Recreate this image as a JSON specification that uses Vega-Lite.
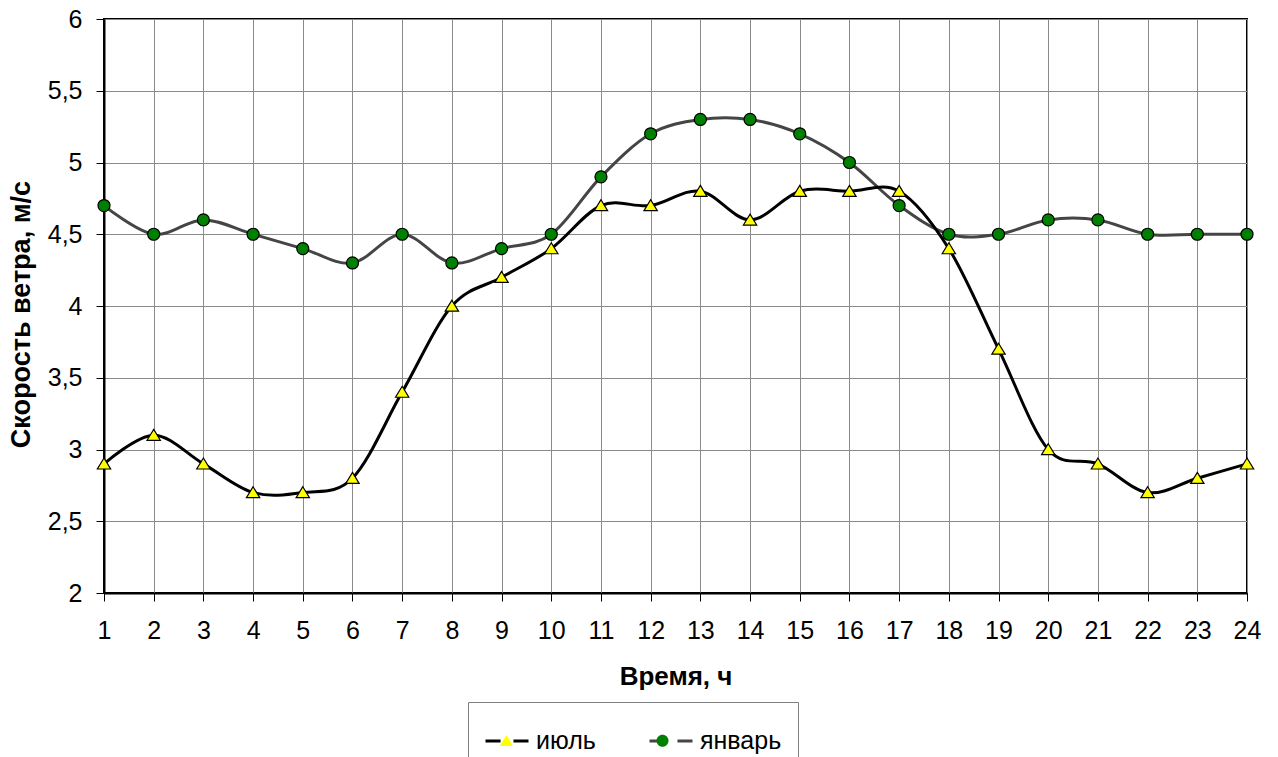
{
  "$schema": "https://vega.github.io/schema/vega-lite/v6.json",
  "autosize": "none",
  "width": 1143,
  "height": 574,
  "padding": {"left": 104, "top": 19, "right": 31, "bottom": 164},
  "background": "#ffffff",
  "config": {
    "font": "Liberation Sans",
    "view": {"stroke": "#000000", "strokeWidth": 2},
    "axis": {
      "labelFont": "Liberation Sans",
      "titleFont": "Liberation Sans",
      "labelColor": "#000000",
      "titleColor": "#000000",
      "gridColor": "#8a8a8a",
      "gridWidth": 1,
      "gridOpacity": 1,
      "tickColor": "#000000",
      "tickWidth": 1,
      "domainColor": "#000000",
      "domainWidth": 2
    }
  },
  "data": {
    "values": [
      {"hour": 1, "series": "январь", "speed": 4.7},
      {"hour": 2, "series": "январь", "speed": 4.5},
      {"hour": 3, "series": "январь", "speed": 4.6},
      {"hour": 4, "series": "январь", "speed": 4.5},
      {"hour": 5, "series": "январь", "speed": 4.4},
      {"hour": 6, "series": "январь", "speed": 4.3},
      {"hour": 7, "series": "январь", "speed": 4.5},
      {"hour": 8, "series": "январь", "speed": 4.3},
      {"hour": 9, "series": "январь", "speed": 4.4},
      {"hour": 10, "series": "январь", "speed": 4.5},
      {"hour": 11, "series": "январь", "speed": 4.9},
      {"hour": 12, "series": "январь", "speed": 5.2},
      {"hour": 13, "series": "январь", "speed": 5.3},
      {"hour": 14, "series": "январь", "speed": 5.3},
      {"hour": 15, "series": "январь", "speed": 5.2},
      {"hour": 16, "series": "январь", "speed": 5.0},
      {"hour": 17, "series": "январь", "speed": 4.7},
      {"hour": 18, "series": "январь", "speed": 4.5},
      {"hour": 19, "series": "январь", "speed": 4.5},
      {"hour": 20, "series": "январь", "speed": 4.6},
      {"hour": 21, "series": "январь", "speed": 4.6},
      {"hour": 22, "series": "январь", "speed": 4.5},
      {"hour": 23, "series": "январь", "speed": 4.5},
      {"hour": 24, "series": "январь", "speed": 4.5},
      {"hour": 1, "series": "июль", "speed": 2.9},
      {"hour": 2, "series": "июль", "speed": 3.1},
      {"hour": 3, "series": "июль", "speed": 2.9},
      {"hour": 4, "series": "июль", "speed": 2.7},
      {"hour": 5, "series": "июль", "speed": 2.7},
      {"hour": 6, "series": "июль", "speed": 2.8},
      {"hour": 7, "series": "июль", "speed": 3.4},
      {"hour": 8, "series": "июль", "speed": 4.0},
      {"hour": 9, "series": "июль", "speed": 4.2},
      {"hour": 10, "series": "июль", "speed": 4.4},
      {"hour": 11, "series": "июль", "speed": 4.7},
      {"hour": 12, "series": "июль", "speed": 4.7},
      {"hour": 13, "series": "июль", "speed": 4.8},
      {"hour": 14, "series": "июль", "speed": 4.6},
      {"hour": 15, "series": "июль", "speed": 4.8},
      {"hour": 16, "series": "июль", "speed": 4.8},
      {"hour": 17, "series": "июль", "speed": 4.8},
      {"hour": 18, "series": "июль", "speed": 4.4},
      {"hour": 19, "series": "июль", "speed": 3.7},
      {"hour": 20, "series": "июль", "speed": 3.0},
      {"hour": 21, "series": "июль", "speed": 2.9},
      {"hour": 22, "series": "июль", "speed": 2.7},
      {"hour": 23, "series": "июль", "speed": 2.8},
      {"hour": 24, "series": "июль", "speed": 2.9}
    ]
  },
  "encoding": {
    "x": {
      "field": "hour",
      "type": "quantitative",
      "scale": {"domain": [1, 24], "nice": false, "zero": false},
      "axis": {
        "title": "Время, ч",
        "values": [1,2,3,4,5,6,7,8,9,10,11,12,13,14,15,16,17,18,19,20,21,22,23,24],
        "format": "d",
        "labelFontSize": 25,
        "labelPadding": 17,
        "labelFlush": false,
        "labelOverlap": false,
        "tickSize": 8,
        "titleFontSize": 26,
        "titleFontWeight": "bold",
        "titlePadding": 20
      }
    },
    "y": {
      "field": "speed",
      "type": "quantitative",
      "scale": {"domain": [2, 6], "nice": false, "zero": false},
      "axis": {
        "title": "Скорость ветра, м/с",
        "values": [2, 2.5, 3, 3.5, 4, 4.5, 5, 5.5, 6],
        "labelExpr": "replace(toString(datum.value), '.', ',')",
        "labelFontSize": 25,
        "labelPadding": 14,
        "labelFlush": false,
        "labelOverlap": false,
        "tickSize": 8,
        "titleFontSize": 27,
        "titleFontWeight": "bold",
        "titlePadding": 12,
        "titleY": 295
      }
    }
  },
  "layer": [
    {
      "mark": {"type": "line", "interpolate": "cardinal", "tension": 0, "strokeWidth": 3},
      "encoding": {
        "stroke": {
          "field": "series",
          "type": "nominal",
          "scale": {"domain": ["июль", "январь"], "range": ["#000000", "#454545"]},
          "legend": {
            "title": null,
            "orient": "none",
            "legendX": 364,
            "legendY": 683,
            "direction": "horizontal",
            "padding": 16,
            "strokeColor": "#808080",
            "symbolType": "M-1,0H-0.3M0.3,0H1",
            "symbolSize": 1849,
            "symbolStrokeWidth": 3,
            "labelFont": "Liberation Sans",
            "labelFontSize": 25,
            "labelColor": "#000000",
            "labelOffset": 6,
            "columnPadding": 47
          }
        }
      }
    },
    {
      "mark": {"type": "point", "filled": true, "size": 1849, "stroke": "#000000", "strokeWidth": 1.2, "opacity": 1},
      "encoding": {
        "shape": {
          "field": "series",
          "type": "nominal",
          "scale": {"range": ["M0,-0.27L0.31,0.24L-0.31,0.24Z", "M0.28,0A0.28,0.28,0,1,1,-0.28,0A0.28,0.28,0,1,1,0.28,0Z"]},
          "legend": {
            "title": null,
            "orient": "none",
            "legendX": 364,
            "legendY": 683,
            "direction": "horizontal",
            "padding": 16,
            "symbolSize": 1849,
            "symbolStrokeWidth": 1.2,
            "symbolStrokeColor": "#000000",
            "labelExpr": "''",
            "labelFontSize": 25,
            "labelOffset": 6,
            "columnPadding": 105
          }
        },
        "fill": {
          "field": "series",
          "type": "nominal",
          "scale": {"range": ["#ffff00", "#008000"]},
          "legend": {
            "title": null,
            "orient": "none",
            "legendX": 364,
            "legendY": 683,
            "direction": "horizontal",
            "padding": 16,
            "symbolSize": 1849,
            "symbolStrokeWidth": 1.2,
            "symbolStrokeColor": "#000000",
            "labelExpr": "''",
            "labelFontSize": 25,
            "labelOffset": 6,
            "columnPadding": 105
          }
        }
      }
    }
  ]
}
